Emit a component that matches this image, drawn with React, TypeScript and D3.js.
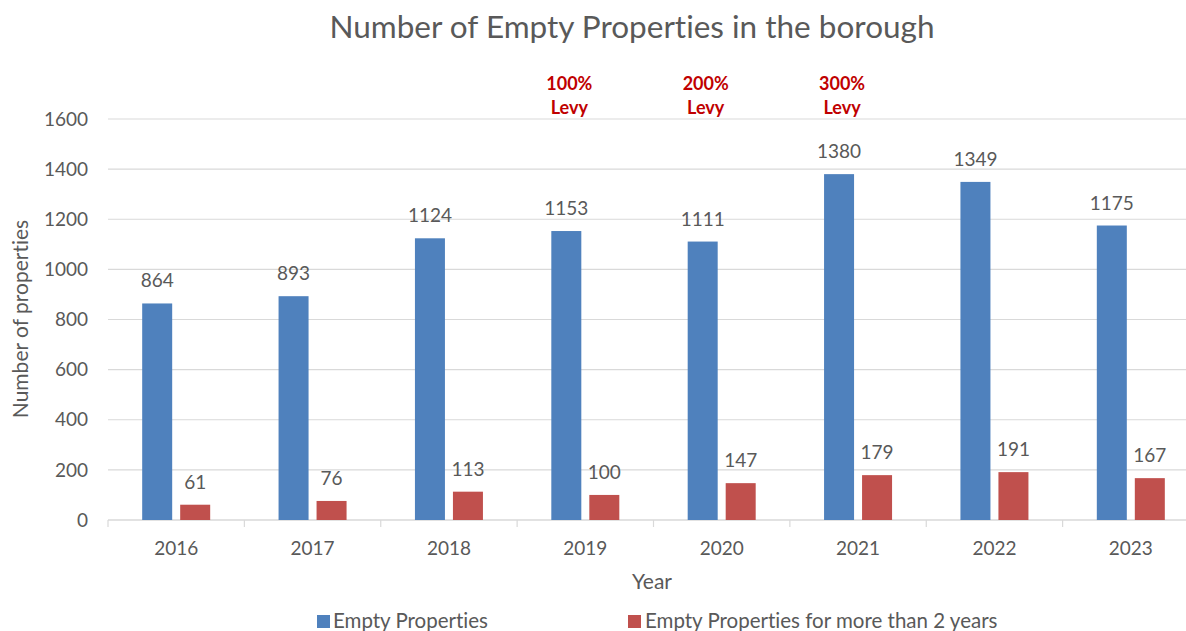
import React from "react";
import * as d3 from "d3";

const years = ["2016", "2017", "2018", "2019", "2020", "2021", "2022", "2023"];
const emptyProps = [864, 893, 1124, 1153, 1111, 1380, 1349, 1175];
const longTermEmpty = [61, 76, 113, 100, 147, 179, 191, 167];
const yTicks = [0, 200, 400, 600, 800, 1000, 1200, 1400, 1600];
const levyYears = ["2019", "2020", "2021"];
const levyLabels = ["100%", "200%", "300%"];
const seriesNames = ["Empty Properties", "Empty Properties for more than 2 years"];

const W = 1186;
const H = 631;
const FONT = "Lato, 'Open Sans', sans-serif";
const TEXT = "#595959";
const BLUE = "#4f81bd";
const RED = "#c0504d";
const GRID = "#d9d9d9";

export default function App() {
  const x = d3.scaleBand<string>().domain(years).range([108, 1199]).padding(0);
  const y = d3.scaleLinear().domain([0, 1600]).range([520, 119]);
  const barW = 30;
  const gap = 8;
  const bw = x.bandwidth();
  const center = (yr: string) => (x(yr) as number) + bw / 2;
  const blueX = (yr: string) => center(yr) - gap / 2 - barW;
  const redX = (yr: string) => center(yr) + gap / 2;

  return (
    <svg
      width={W}
      height={H}
      viewBox={`0 0 ${W} ${H}`}
      style={{ position: "absolute", left: 0, top: 0, background: "#fff", fontVariantLigatures: "none" }}
      fontFamily={FONT}
    >
      <rect x={0} y={0} width={W} height={H} fill="#fff" />
      <text x={632} y={38} textAnchor="middle" fontSize={31.5} fill={TEXT}>
        Number of Empty Properties in the borough
      </text>

      {/* gridlines */}
      {yTicks.map((t) => (
        <line
          key={"g" + t}
          x1={108}
          x2={1199}
          y1={y(t)}
          y2={y(t)}
          stroke={GRID}
          strokeWidth={t === 0 ? 1.5 : 1.2}
        />
      ))}
      {/* y tick labels */}
      {yTicks.map((t) => (
        <text
          key={"yt" + t}
          x={88}
          y={y(t)}
          dy="0.35em"
          textAnchor="end"
          fontSize={19}
          fill={TEXT}
        >
          {t}
        </text>
      ))}
      {/* x ticks */}
      {years.map((yr) => (
        <line
          key={"xt" + yr}
          x1={x(yr) as number}
          x2={x(yr) as number}
          y1={520}
          y2={527}
          stroke={GRID}
          strokeWidth={1.2}
        />
      ))}
      {years.map((yr) => (
        <text
          key={"xl" + yr}
          x={center(yr)}
          y={555}
          textAnchor="middle"
          fontSize={19}
          fill={TEXT}
        >
          {yr}
        </text>
      ))}

      {/* bars */}
      {years.map((yr, i) => (
        <g key={"b" + yr}>
          <rect
            x={blueX(yr)}
            y={y(emptyProps[i])}
            width={barW}
            height={y(0) - y(emptyProps[i])}
            fill={BLUE}
          />
          <rect
            x={redX(yr)}
            y={y(longTermEmpty[i])}
            width={barW}
            height={y(0) - y(longTermEmpty[i])}
            fill={RED}
          />
          <text
            x={blueX(yr) + barW / 2}
            y={y(emptyProps[i]) - 16}
            textAnchor="middle"
            fontSize={19}
            fill={TEXT}
          >
            {emptyProps[i]}
          </text>
          <text
            x={redX(yr) + barW / 2}
            y={y(longTermEmpty[i]) - 16}
            textAnchor="middle"
            fontSize={19}
            fill={TEXT}
          >
            {longTermEmpty[i]}
          </text>
        </g>
      ))}

      {/* levy annotations */}
      {levyYears.map((yr, i) => (
        <text
          key={"lv" + yr}
          x={blueX(yr) + barW / 2 + 3}
          y={90}
          textAnchor="middle"
          fontSize={18}
          fontWeight="bold"
          fill="#c00000"
        >
          <tspan x={blueX(yr) + barW / 2 + 3} dy={0}>
            {levyLabels[i]}
          </tspan>
          <tspan x={blueX(yr) + barW / 2 + 3} dy={24}>
            Levy
          </tspan>
        </text>
      ))}

      {/* axis titles */}
      <text
        transform={`translate(28,319) rotate(-90)`}
        textAnchor="middle"
        fontSize={21}
        fill={TEXT}
      >
        Number of properties
      </text>
      <text x={652} y={589} textAnchor="middle" fontSize={21} fill={TEXT}>
        Year
      </text>

      {/* legend */}
      <rect x={317} y={615} width={13} height={13} fill={BLUE} />
      <text x={333} y={628} fontSize={20.5} fill={TEXT}>
        {seriesNames[0]}
      </text>
      <rect x={628} y={615} width={13} height={13} fill={RED} />
      <text x={645} y={628} fontSize={20.5} fill={TEXT}>
        {seriesNames[1]}
      </text>
    </svg>
  );
}
